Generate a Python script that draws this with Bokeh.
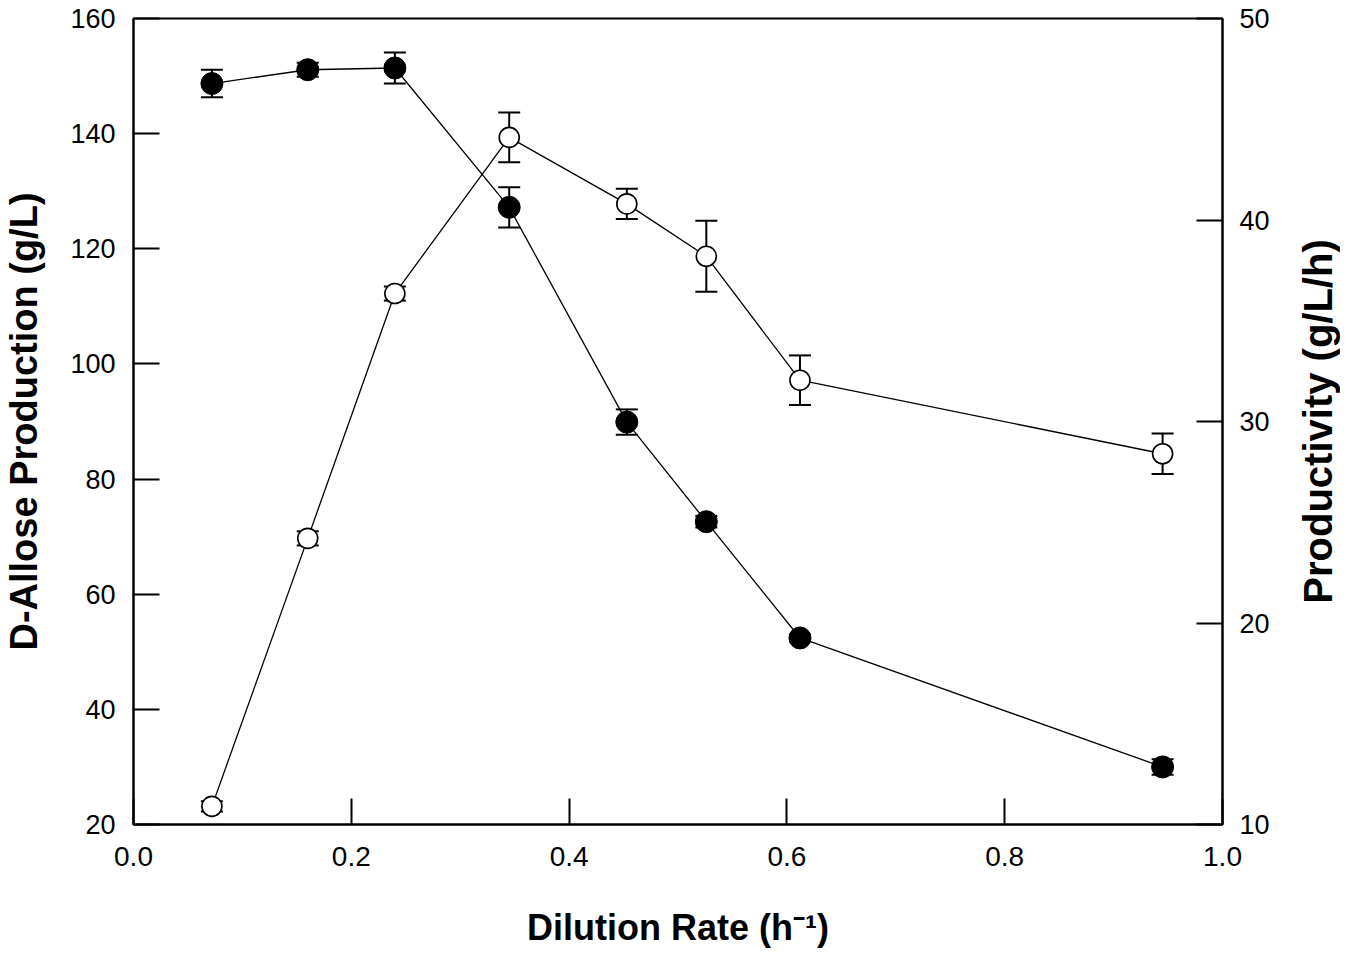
from bokeh.plotting import figure
from bokeh.layouts import row
from bokeh.models import (LinearAxis, Range1d, Whisker, ColumnDataSource, TeeHead,
                          FixedTicker, NumeralTickFormatter)
from bokeh.embed import file_html
from bokeh.resources import INLINE

# ---- data ----
dilution = [0.072, 0.160, 0.240, 0.345, 0.453, 0.526, 0.612, 0.945]
allose = [148.7, 151.1, 151.4, 127.2, 89.9, 72.6, 52.4, 30.0]
allose_err = [2.4, 1.2, 2.7, 3.5, 2.2, 1.0, 0.6, 1.35]
productivity = [10.9, 24.2, 36.35, 44.1, 40.8, 38.2, 32.05, 28.4]
productivity_err = [0.25, 0.35, 0.35, 1.24, 0.75, 1.76, 1.23, 1.0]

x_ticks = [0.0, 0.2, 0.4, 0.6, 0.8, 1.0]
left_ticks = [20, 40, 60, 80, 100, 120, 140, 160]
right_ticks = [10, 20, 30, 40, 50]

FONT = "Liberation Sans"

p = figure(width=1286, height=950, output_backend="svg", toolbar_location=None,
           x_range=Range1d(0, 1), y_range=Range1d(20, 160),
           min_border_left=133, min_border_right=64,
           min_border_top=18, min_border_bottom=126)
p.extra_y_ranges = {"prod": Range1d(10, 50)}
p.grid.visible = False
p.outline_line_color = "black"
p.outline_line_width = 2
p.background_fill_color = "white"
p.border_fill_color = "white"


def style_axis(ax, ticks, standoff):
    ax.ticker = FixedTicker(ticks=ticks)
    ax.major_tick_in = 26
    ax.major_tick_out = 0
    ax.minor_tick_line_color = None
    ax.axis_line_width = 2
    ax.axis_line_color = "black"
    ax.major_tick_line_width = 2
    ax.major_tick_line_color = "black"
    ax.major_label_text_font = FONT
    ax.major_label_text_font_size = "27px"
    ax.major_label_text_color = "black"
    ax.major_label_standoff = standoff


def style_title(ax, title, standoff, size):
    ax.axis_label = title
    ax.axis_label_text_font = FONT
    ax.axis_label_text_font_style = "bold"
    ax.axis_label_text_font_size = size
    ax.axis_label_text_color = "black"
    ax.axis_label_standoff = standoff


xa = p.xaxis[0]
style_axis(xa, x_ticks, 22)
style_title(xa, "Dilution Rate (h\u207b\u00b9)", 38, "36px")
xa.major_label_text_font_size = "28px"
xa.formatter = NumeralTickFormatter(format="0.0")

ya = p.yaxis[0]
style_axis(ya, left_ticks, 18)
style_title(ya, "D-Allose Production (g/L)", 22, "38px")

ra = LinearAxis(y_range_name="prod")
style_axis(ra, right_ticks, 17)
p.add_layout(ra, "right")

# error bars
src_a = ColumnDataSource(dict(
    x=dilution,
    upper=[v + e for v, e in zip(allose, allose_err)],
    lower=[v - e for v, e in zip(allose, allose_err)]))
src_p = ColumnDataSource(dict(
    x=dilution,
    upper=[v + e for v, e in zip(productivity, productivity_err)],
    lower=[v - e for v, e in zip(productivity, productivity_err)]))

for src, rn in ((src_a, "default"), (src_p, "prod")):
    w = Whisker(source=src, base="x", upper="upper", lower="lower",
                line_color="black", line_width=2, y_range_name=rn,
                upper_head=TeeHead(size=22, line_width=2, line_color="black"),
                lower_head=TeeHead(size=22, line_width=2, line_color="black"))
    p.add_layout(w)

# productivity (open circles, right axis)
p.line(dilution, productivity, line_color="black", line_width=1.3, y_range_name="prod")
p.scatter(dilution, productivity, marker="circle", size=20, fill_color="white",
          line_color="black", line_width=1.6, y_range_name="prod")

# D-allose production (filled circles, left axis)
p.line(dilution, allose, line_color="black", line_width=1.3)
p.scatter(dilution, allose, marker="circle", size=22, fill_color="black",
          line_color="black")

# narrow companion panel that carries the right-hand title (reads bottom-to-top)
p2 = figure(width=54, height=950, output_backend="svg", toolbar_location=None,
            x_range=Range1d(0, 1), y_range=Range1d(10, 50),
            min_border_left=53, min_border_right=0,
            min_border_top=18, min_border_bottom=126)
p2.grid.visible = False
p2.outline_line_color = None
p2.background_fill_color = "white"
p2.border_fill_color = "white"
p2.xaxis.visible = False
ya2 = p2.yaxis[0]
ya2.ticker = FixedTicker(ticks=[])
ya2.axis_line_color = None
ya2.major_tick_line_color = None
ya2.minor_tick_line_color = None
ya2.major_tick_out = 0
ya2.major_tick_in = 0
ya2.major_label_standoff = 0
style_title(ya2, "Productivity (g/L/h)", 0, "40px")

layout = row(p, p2)
open("out.html", "w").write(file_html(layout, INLINE))
